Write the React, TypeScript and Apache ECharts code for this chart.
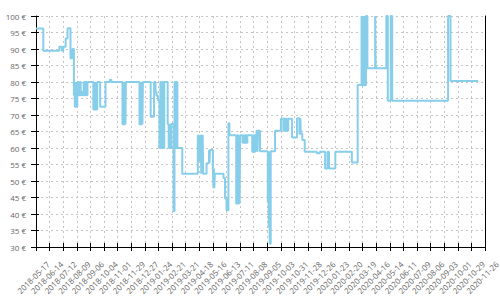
import React, { useEffect, useRef } from "react";
import * as echarts from "echarts";

const startDate = "2018-05-17";
const endDate = "2020-11-26";
const tickStepDays = 28;
const yMin = 30;
const yMax = 100;
const yStep = 5;

const priceDates = [
  "2018-05-17", "2018-06-01", "2018-07-04", "2018-07-09", "2018-07-12", "2018-07-17", "2018-07-21", "2018-07-27", "2018-07-31",
  "2018-08-03", "2018-08-04", "2018-08-05", "2018-08-07", "2018-08-08", "2018-08-10", "2018-08-11", "2018-08-13", "2018-08-15",
  "2018-08-17", "2018-08-19", "2018-08-21", "2018-08-23", "2018-08-25", "2018-08-27", "2018-08-29", "2018-08-31",
  "2018-09-12", "2018-09-14", "2018-09-15", "2018-09-17", "2018-09-18", "2018-09-20",
  "2018-09-26", "2018-10-07", "2018-10-16", "2018-10-19",
  "2018-11-11", "2018-11-13", "2018-11-14", "2018-11-16", "2018-11-17", "2018-11-18",
  "2018-12-16", "2018-12-18", "2018-12-19", "2018-12-21", "2018-12-22", "2018-12-23",
  "2019-01-08", "2019-01-15", "2019-01-18", "2019-01-20", "2019-01-23",
  "2019-01-26", "2019-01-28", "2019-01-30", "2019-02-01", "2019-02-03", "2019-02-05",
  "2019-02-12", "2019-02-14", "2019-02-16", "2019-02-17", "2019-02-19",
  "2019-02-24", "2019-02-26", "2019-02-28", "2019-03-02", "2019-03-04", "2019-03-06",
  "2019-03-14", "2019-04-15", "2019-04-17", "2019-04-21", "2019-04-22", "2019-04-23", "2019-04-24", "2019-04-25", "2019-04-26",
  "2019-05-03", "2019-05-08", "2019-05-09", "2019-05-10", "2019-05-16", "2019-05-17", "2019-05-18", "2019-05-19", "2019-05-20",
  "2019-06-07", "2019-06-10", "2019-06-13", "2019-06-17", "2019-06-19",
  "2019-07-03", "2019-07-05", "2019-07-07", "2019-07-09", "2019-07-10", "2019-07-11",
  "2019-07-16", "2019-07-18", "2019-07-20", "2019-07-22", "2019-07-24", "2019-07-26",
  "2019-08-05", "2019-08-07", "2019-08-09", "2019-08-11", "2019-08-13", "2019-08-14", "2019-08-16", "2019-08-17", "2019-08-21",
  "2019-09-06", "2019-09-07", "2019-09-08", "2019-09-09", "2019-09-10", "2019-09-12",
  "2019-09-21", "2019-10-03", "2019-10-08", "2019-10-10", "2019-10-12", "2019-10-14", "2019-10-16", "2019-10-18",
  "2019-10-26", "2019-11-05", "2019-11-10", "2019-11-12", "2019-11-13", "2019-11-16", "2019-11-21",
  "2019-12-16", "2019-12-22", "2020-01-02", "2020-01-07", "2020-01-10", "2020-01-23",
  "2020-02-26", "2020-03-09", "2020-03-17", "2020-03-18", "2020-03-20", "2020-03-21", "2020-03-23", "2020-03-24", "2020-03-26",
  "2020-03-29", "2020-04-14", "2020-04-15", "2020-05-07", "2020-05-10", "2020-05-16", "2020-05-19",
  "2020-09-11", "2020-09-16", "2020-11-12",
];

const priceValues = [
  96.2, 89.5, 90.7, 89.5, 90.7, 93.2, 96.3, 87.2, 90,
  76, 80, 72.5, 80, 72.5, 76, 80, 76, 80,
  76, 77, 76, 80, 76, 80, 76, 80,
  71.7, 80, 71.7, 80, 71.7, 80,
  72.5, 80, 80.7, 80,
  67.2, 80, 67.2, 80, 67.2, 80,
  67.2, 80, 67.2, 80, 67.2, 80,
  69.5, 80, 77, 75.8, 74.5,
  60, 80, 60, 80, 60, 80,
  67.3, 60, 67.3, 60, 67.3,
  40.8, 80, 60, 80, 60, 60,
  52.2, 63.8, 56.4, 64, 52.2, 64, 52.2, 64, 52.2,
  55.4, 59.4, 55.4, 59.4, 53.5, 47.8, 53.8, 47.8, 52.2,
  50.9, 44.8, 41.1, 67.5, 63.9,
  43.2, 63.9, 43.2, 63.9, 43.2, 63.9,
  61.6, 63.9, 61.6, 63.9, 61.6, 63.9,
  58.9, 63.9, 58.9, 63.9, 58.9, 65.2, 58.9, 65.2, 59,
  43.7, 59, 36, 59, 31, 59,
  65.2, 68.9, 65.2, 68.9, 65.2, 68.9, 65.2, 68.9,
  63.2, 69, 64.3, 69, 64.3, 62.4, 58.9,
  58.4, 58.9, 53.8, 58.9, 53.8, 58.9,
  55.6, 79.1, 100, 79, 100, 79, 100, 79, 100,
  84.2, 100, 84.2, 100, 74.3, 100, 74.3,
  100, 80.3, 80.3,
];

const DAY_MS = 86400000;
const baseMs = Date.parse(startDate);
const toDay = (d: string) => Math.round((Date.parse(d) - baseMs) / DAY_MS);
const fromDay = (n: number) => new Date(baseMs + n * DAY_MS).toISOString().slice(0, 10);

const FONT = "Open Sans";
const LABEL_COLOR = "#666";
const GRID_COLOR = "#c4c4c4";

export default function App() {
  const ref = useRef<HTMLDivElement>(null);

  useEffect(() => {
    if (!ref.current) return;
    const chart = echarts.init(ref.current, undefined, { renderer: "svg" });
    const xMax = toDay(endDate);
    const seriesData = priceDates.map((d, i) => [toDay(d), priceValues[i]]);

    chart.setOption({
      animation: false,
      grid: { left: 36, right: 15, top: 16, bottom: 53, containLabel: false, outerBoundsMode: "none" },
      xAxis: [
        {
          type: "value",
          min: 0,
          max: xMax,
          interval: tickStepDays,
          position: "bottom",
          axisLine: { show: true, onZero: false, lineStyle: { color: "#000", width: 1 } },
          axisTick: { show: true, length: 4, lineStyle: { color: "#000", width: 1 } },
          axisLabel: {
            show: true,
            rotate: 45,
            margin: 33,
            align: "center",
            verticalAlign: "bottom",
            fontSize: 8,
            fontFamily: FONT,
            color: LABEL_COLOR,
            showMinLabel: true,
            showMaxLabel: true,
            hideOverlap: false,
            formatter: (v: number) => fromDay(v),
          },
          splitLine: { show: true, lineStyle: { color: GRID_COLOR, width: 1, type: [2, 3] } },
        },
        {
          type: "value",
          min: 0,
          max: xMax,
          interval: tickStepDays,
          position: "bottom",
          axisLine: { show: false, onZero: false },
          axisTick: { show: true, inside: true, length: 4, lineStyle: { color: "#000", width: 1 } },
          axisLabel: { show: false },
          splitLine: { show: false },
        },
      ],
      yAxis: [
        {
          type: "value",
          min: yMin,
          max: yMax,
          interval: yStep,
          position: "left",
          axisLine: { show: true, onZero: false, lineStyle: { color: "#000", width: 1 } },
          axisTick: { show: true, length: 5, lineStyle: { color: "#000", width: 1 } },
          axisLabel: {
            margin: 10,
            fontSize: 8,
            fontFamily: FONT,
            color: LABEL_COLOR,
            formatter: "{value} €",
          },
          splitLine: { show: true, lineStyle: { color: GRID_COLOR, width: 1, type: [2, 3] } },
        },
        {
          type: "value",
          min: yMin,
          max: yMax,
          interval: yStep,
          position: "left",
          axisLine: { show: false, onZero: false },
          axisTick: { show: true, inside: true, length: 3, lineStyle: { color: "#000", width: 1 } },
          axisLabel: { show: false },
          splitLine: { show: false },
        },
        {
          type: "value",
          min: yMin,
          max: yMax,
          interval: yStep,
          position: "right",
          axisLine: { show: true, onZero: false, lineStyle: { color: "#000", width: 1 } },
          axisTick: { show: false },
          axisLabel: { show: false },
          splitLine: { show: false },
        },
      ],
      series: [
        {
          type: "line",
          xAxisIndex: 0,
          yAxisIndex: 0,
          step: "end",
          data: seriesData,
          showSymbol: false,
          symbol: "none",
          lineStyle: { color: "#87CEEB", width: 2 },
          emphasis: { disabled: true },
        },
      ],
    });

    return () => chart.dispose();
  }, []);

  return (
    <div
      ref={ref}
      style={{ position: "fixed", left: 0, top: 0, width: 500, height: 300, background: "#fff" }}
    />
  );
}
